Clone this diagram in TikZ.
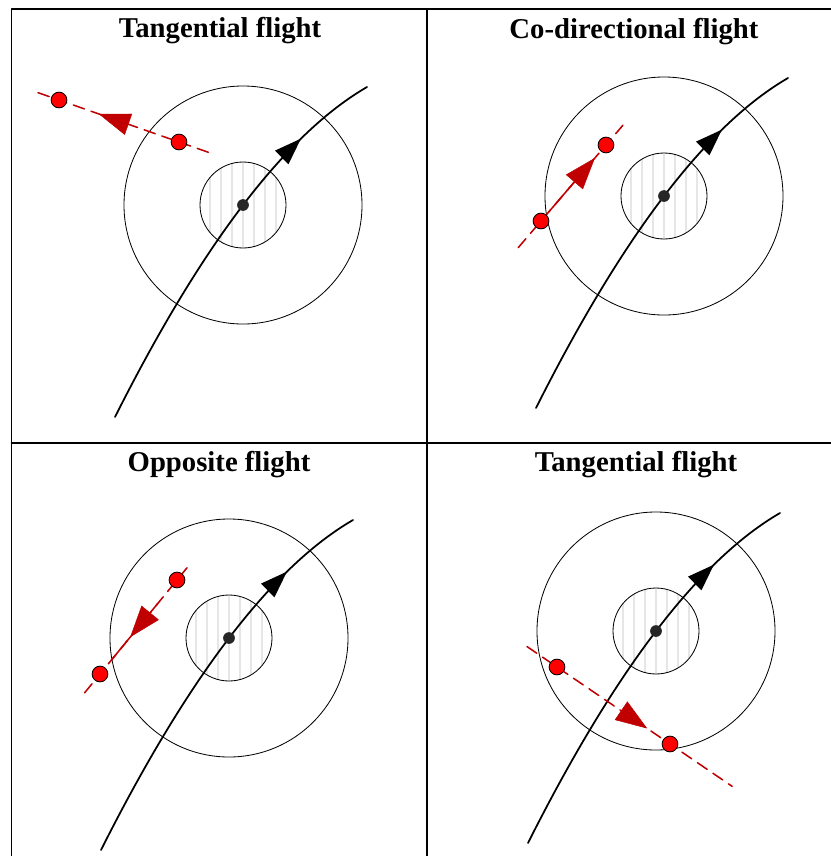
\documentclass[tikz,border=0pt]{standalone}
\usepackage{fontspec}
\setmainfont{Liberation Serif}
\usetikzlibrary{calc,arrows.meta,decorations.markings}
\definecolor{TrackRed}{HTML}{C00000}
\definecolor{DotRed}{HTML}{FF0000}
\definecolor{StripeGray}{HTML}{E6E6E6}

\begin{document}
\begin{tikzpicture}[x=0.03cm,y=-0.03cm,line cap=round,line join=round,
  title/.style={font=\bfseries\fontsize{24.5}{28}\selectfont},
  frame/.style={line width=1.4pt},
  ring/.style={line width=0.7pt},
  flightpath/.style={line width=1.5pt,postaction={decorate},
    decoration={markings,mark=at position #1 with {\arrow{Triangle[length=23pt,width=16pt]}}}},
  track/.style={TrackRed,line width=1.3pt,dash pattern=on 10pt off 6pt},
  solidtrack/.style={TrackRed,line width=1.3pt},
  headto/.style={decorate,
    decoration={markings,mark=at position #1 with {\arrow[TrackRed]{Triangle[length=27pt,width=19pt]}}}},
  drone/.style={circle,draw=black,fill=DotRed,line width=0.7pt,minimum size=13.5pt,inner sep=0pt},
  hub/.style={circle,fill=black!85,minimum size=10pt,inner sep=0pt}]
  \useasboundingbox (0,0) rectangle (831,856);

  % table
  \draw[frame] (11.5,856) |- (831,9);
  \draw[frame] (427,9) -- (427,856);
  \draw[frame] (11.5,443) -- (831,443);

  \node[title] (t1) at (220,31) {Tangential flight};
  \node[title] (t2) at (634,32) {Co-directional flight};
  \node[title] (t3) at (219,465) {Opposite flight};
  \node[title] (t4) at (636,465) {Tangential flight};

  % protected zone and own trajectory
  \foreach \n/\cx/\cy in {1/243/205,2/664/196,3/229/638,4/656/631}{
    \coordinate (c\n) at (\cx,\cy);
    \begin{scope}
      \clip (c\n) circle[radius=43];
      \foreach \k in {-4,...,4}
        \draw[StripeGray,line width=2.5pt] ($(c\n)+(\k*11,-50)$) -- ++(0,100);
    \end{scope}
    \draw[ring] (c\n) circle[radius=43];
    \draw[ring] (c\n) circle[radius=119];
    \coordinate (s\n) at ($(c\n)+(-128,212)$);
    \coordinate (e\n) at ($(c\n)+(124,-118)$);
    \draw[flightpath=0.8] (s\n) .. controls ($(c\n)+(-41,39)$) and ($(c\n)+(43,-71)$) .. (e\n);
    \node[hub] (h\n) at (c\n) {};
  }

  % intruders
  \coordinate (p1) at (59,100);
  \coordinate (q1) at (179,142);
  \draw[track] ($(p1)!-0.175!(q1)$) -- ($(p1)!1.26!(q1)$);
  \path[headto=0.67] (q1) -- (p1);
  \node[drone] (u1) at (p1) {};
  \node[drone] (v1) at (q1) {};

  \coordinate (p2) at (541,221);
  \coordinate (q2) at (606,145);
  \draw[track] ($(p2)!-0.35!(q2)$) -- ($(p2)!1.26!(q2)$);
  \draw[solidtrack] ($(p2)!0.12!(q2)$) -- ($(p2)!0.8!(q2)$);
  \path[headto=0.83] (p2) -- (q2);
  \node[drone] (u2) at (p2) {};
  \node[drone] (v2) at (q2) {};

  \coordinate (p3) at (177,580);
  \coordinate (q3) at (100,674);
  \draw[track] ($(p3)!-0.13!(q3)$) -- ($(p3)!1.23!(q3)$);
  \draw[solidtrack] ($(p3)!0.25!(q3)$) -- ($(p3)!0.85!(q3)$);
  \path[headto=0.61] (p3) -- (q3);
  \node[drone] (u3) at (p3) {};
  \node[drone] (v3) at (q3) {};

  \coordinate (p4) at (557,667);
  \coordinate (q4) at (670,744);
  \draw[track] ($(p4)!-0.265!(q4)$) -- ($(p4)!1.55!(q4)$);
  \path[headto=0.80] (p4) -- (q4);
  \node[drone] (u4) at (p4) {};
  \node[drone] (v4) at (q4) {};
\end{tikzpicture}
\end{document}
